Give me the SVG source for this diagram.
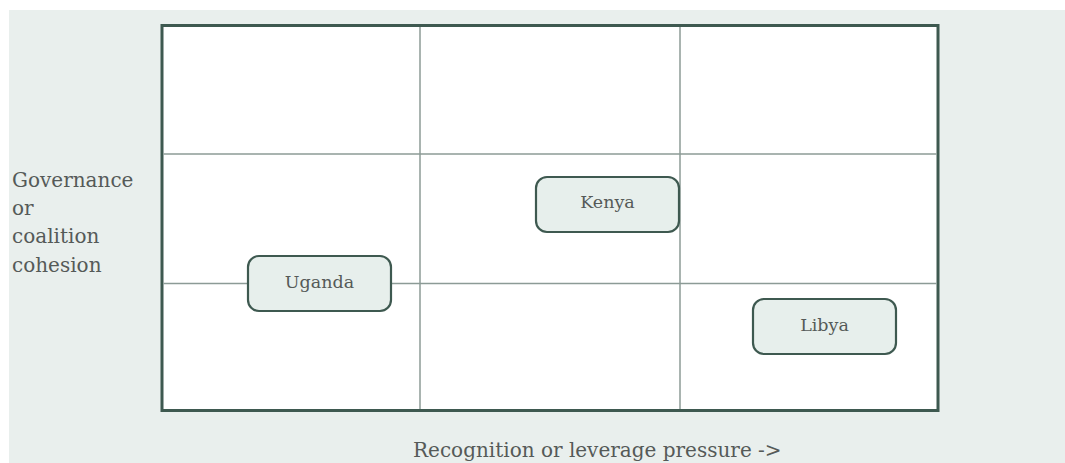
<svg xmlns="http://www.w3.org/2000/svg" width="1065" height="463" viewBox="0 0 1065 463">
<style>
.lbl{font-family:"DejaVu Serif","Liberation Serif",serif;fill:#555a58;font-size:20px}
.node rect{fill:#e7efec;stroke:#3e5950;stroke-width:2.2}
.node text{font-family:"DejaVu Serif","Liberation Serif",serif;fill:#555a58;font-size:17.5px;text-anchor:middle;dominant-baseline:central}
.grid{stroke:#8c9b96;stroke-width:1.5;fill:none}
</style>
<rect x="0" y="0" width="1065" height="463" fill="#ffffff"/>
<rect x="9" y="10" width="1056" height="453" fill="#e9efed"/>
<g id="frame">
<rect x="162" y="25.5" width="776" height="385" fill="#ffffff" stroke="#3e5950" stroke-width="3"/>
</g>
<g id="connectors">
<line class="grid" x1="420" y1="27" x2="420" y2="409"/>
<line class="grid" x1="680" y1="27" x2="680" y2="409"/>
<line class="grid" x1="163.5" y1="154" x2="936.5" y2="154"/>
<line class="grid" x1="163.5" y1="283.5" x2="936.5" y2="283.5"/>
</g>
<g id="axis-y">
<text class="lbl" x="12" y="187">Governance</text>
<text class="lbl" x="12" y="215">or</text>
<text class="lbl" x="12" y="243">coalition</text>
<text class="lbl" x="12" y="272">cohesion</text>
</g>
<g id="axis-x">
<text class="lbl" x="413" y="457">Recognition or leverage pressure -&gt;</text>
</g>
<g id="uganda" class="node">
<rect x="248" y="256" width="143" height="55" rx="11"/>
<text x="319.5" y="282">Uganda</text>
</g>
<g id="kenya" class="node">
<rect x="536" y="177" width="143" height="55" rx="11"/>
<text x="607.5" y="202">Kenya</text>
</g>
<g id="libya" class="node">
<rect x="753" y="299" width="143" height="55" rx="11"/>
<text x="824.5" y="325">Libya</text>
</g>
</svg>
